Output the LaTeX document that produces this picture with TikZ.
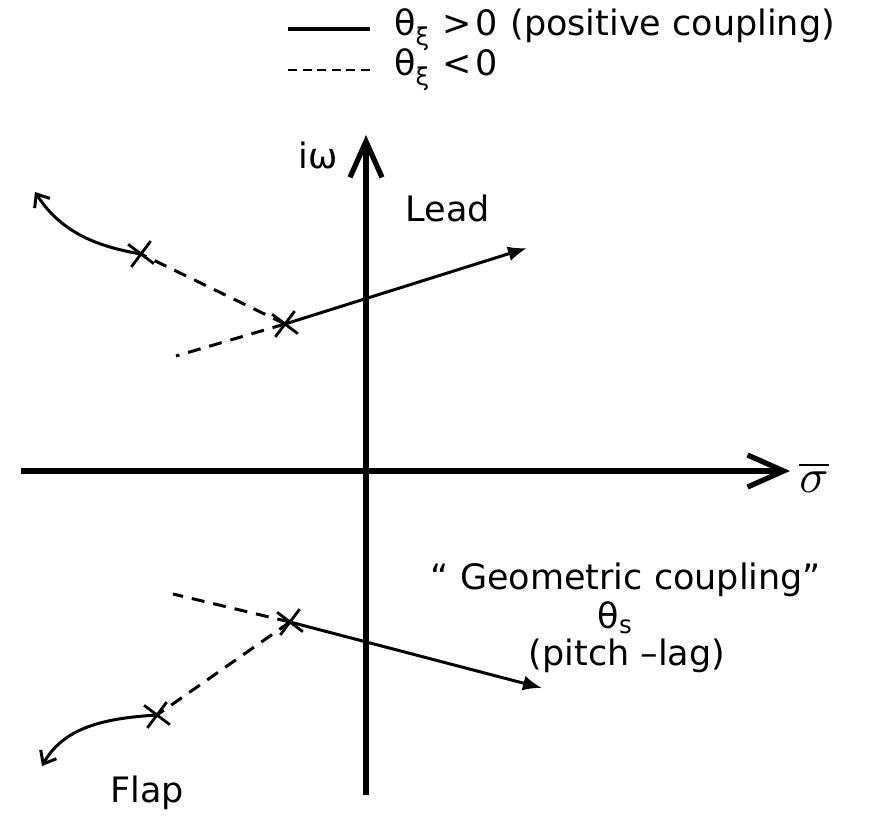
\documentclass[tikz,border=0pt]{standalone}
\usepackage{graphicx}
\usepackage{fontspec}
\setmainfont{DejaVu Sans}
\usepackage{tikz}
\usetikzlibrary{arrows.meta,shapes.misc}
\tikzset{
  % Axes (open chevron tips)
  axis/.style={line width=5.2pt,
    -{Straight Barb[length=36pt,width=32pt,line width=5.2pt]}},
  % Pole mark
  pole/.style={cross out,draw,line width=2.8pt,minimum size=20pt,
    inner sep=0pt,rotate=8},
  % Root locus branches
  locus/.style={line width=3pt,-{Latex[length=19pt,width=15pt]}},
  locusd/.style={line width=3pt,dash pattern=on 13pt off 9pt},
  branch/.style={line width=3pt,
    -{Straight Barb[length=11pt,width=18pt,line width=3pt]}},
  % Labels
  lbl/.style={font=\fontsize{35}{42}\selectfont,inner sep=0pt},
}

\begin{document}
\begin{tikzpicture}[x=1pt,y=-1pt]
  \useasboundingbox (0,0) rectangle (875,818);

  % legend
  \coordinate (ls1) at (288,29);
  \coordinate (le1) at (370,29);
  \coordinate (ls2) at (288,70);
  \coordinate (le2) at (370,70);
  \draw[line width=3.4pt] (ls1) -- (le1);
  \draw[line width=2.8pt,dash pattern=on 9pt off 5.6pt] (ls2) -- (le2);
  \node[lbl,anchor=west] (leg1) at (394,30)
    {θ\textsubscript{ξ}\hspace{13pt}>\hspace{3pt}0\hspace{13pt}(positive coupling)};
  \node[lbl,anchor=west] (leg2) at (394,70)
    {θ\textsubscript{ξ}\hspace{13pt}<\hspace{3pt}0};

  % axes
  \coordinate (xs) at (21,471);
  \coordinate (xe) at (790,471);
  \coordinate (ys) at (366,795);
  \coordinate (ye) at (366,135);
  \draw[axis] (xs) -- (xe);
  \draw[axis] (ys) -- (ye);
  \node[lbl] (iw) at (318,155) {iω};
  \node[inner sep=0pt] (sig) at (814,477)
    {\scalebox{4.8}{$\overline{\sigma}$}};

  % upper (lead) branch
  \node[pole] (pl) at (285,324) {};
  \node[pole] (pu) at (141,254) {};
  \coordinate (leadend) at (527,248);
  \coordinate (leadd) at (176,356);
  \coordinate (leadc) at (35,192);
  \draw[locus] (pl.center) -- (leadend);
  \draw[locusd] (pl.center) -- (leadd);
  \draw[locusd] (pl.center) -- (pu.center);
  \draw[branch] (pu.center) .. controls (100,247) and (62,234) .. (leadc);
  \node[lbl] (lead) at (448,208) {Lead};

  % lower (flap) branch
  \node[pole] (ql) at (290,622) {};
  \node[pole] (qu) at (157,715) {};
  \coordinate (flapend) at (542,688);
  \coordinate (flapd) at (173,594);
  \coordinate (flapc) at (42,766);
  \draw[locus] (ql.center) -- (flapend);
  \draw[locusd] (ql.center) -- (flapd);
  \draw[locusd] (ql.center) -- (qu.center);
  \draw[branch] (qu.center) .. controls (110,718) and (65,725) .. (flapc);
  \node[lbl] (flap) at (147,793) {Flap};

  % coupling note
  \node[lbl] (geo) at (626,580) {“ Geometric coupling”};
  \node[lbl] (ths) at (615,618) {θ\textsubscript{s}};
  \node[lbl] (pl2) at (627,656) {(pitch –lag)};
\end{tikzpicture}
\end{document}
